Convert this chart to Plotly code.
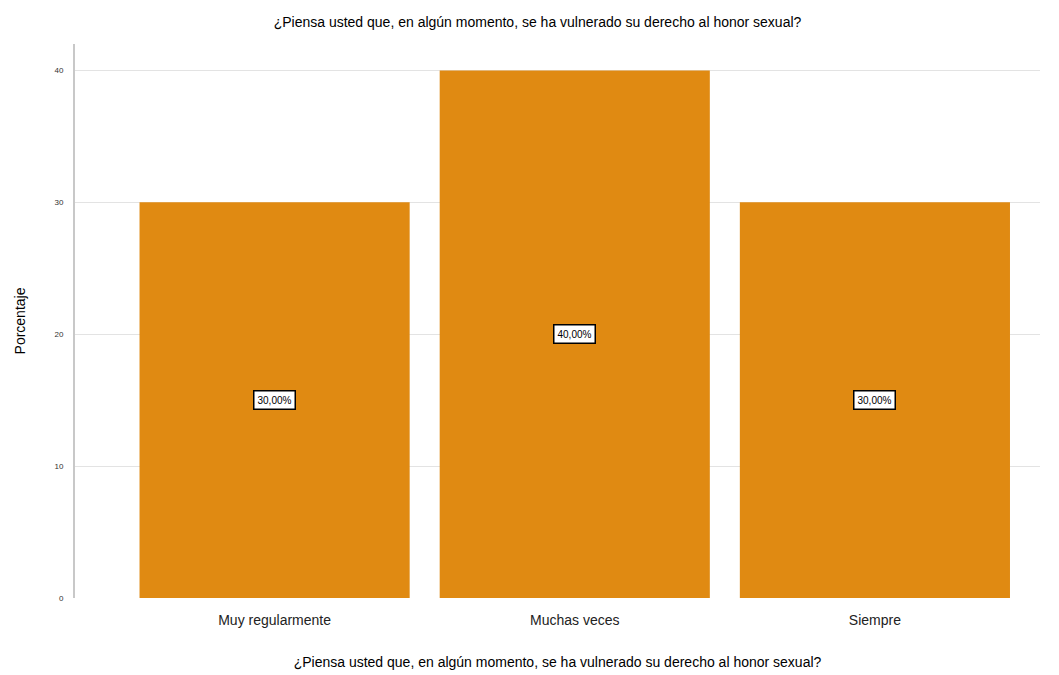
import plotly.graph_objects as go

categories = ["Muy regularmente", "Muchas veces", "Siempre"]
values = [30, 40, 30]
labels = ["30,00%", "40,00%", "30,00%"]
tick_vals = [0, 10, 20, 30, 40]

title = "¿Piensa usted que, en algún momento, se ha vulnerado su derecho al honor sexual?"

fig = go.Figure()
fig.add_trace(go.Bar(
    x=list(range(len(categories))), y=values,
    marker=dict(color="#E08A12", line=dict(width=0)),
    width=0.9, showlegend=False, hoverinfo="skip",
))

for i, (v, lab) in enumerate(zip(values, labels)):
    fig.add_annotation(
        x=i, y=v / 2, text=lab, showarrow=False,
        font=dict(family="Liberation Sans, Arial", size=10, color="black"),
        bgcolor="white", bordercolor="black", borderwidth=1.5, borderpad=3,
    )

fig.update_layout(
    width=1059, height=675,
    paper_bgcolor="white", plot_bgcolor="white",
    margin=dict(l=67, r=27, t=36, b=85),
    title=dict(text=title, x=0.5, xanchor="center", y=0.979, yanchor="middle",
               font=dict(family="Liberation Sans, Arial", size=14, color="black")),
    font=dict(family="Liberation Sans, Arial", color="black"),
    bargap=0.1,
)
fig.update_xaxes(
    range=[-0.665, 2.55], tickvals=list(range(len(categories))), ticktext=categories,
    showgrid=False, zeroline=False, showline=False, ticks="",
    ticklabelstandoff=12, automargin=False,
    tickfont=dict(size=14, color="#222"),
    title=dict(text=title, font=dict(size=14, color="black"), standoff=30),
)
fig.update_yaxes(
    range=[0, 42], tickvals=tick_vals, ticktext=[str(t) for t in tick_vals],
    showgrid=True, gridcolor="#E3E3E3", gridwidth=1, zeroline=False,
    showline=True, linecolor="#C8C8C8", linewidth=2, ticks="",
    ticklabelstandoff=8, automargin=False,
    tickfont=dict(size=8, color="#333"),
    title=dict(text="Porcentaje", font=dict(size=14, color="black"), standoff=26),
)

fig.write_html("out.html")
